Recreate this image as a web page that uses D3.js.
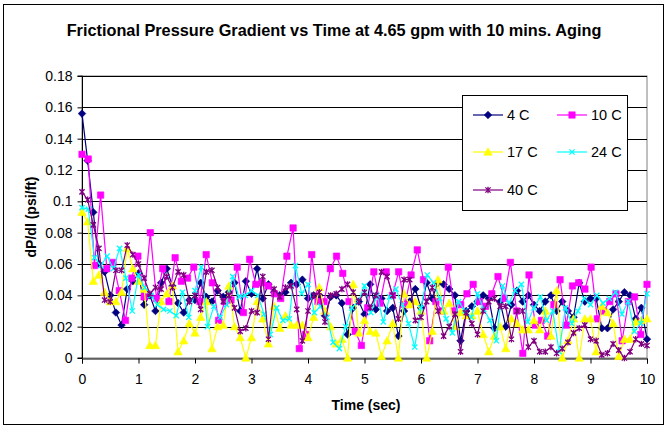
<!DOCTYPE html>
<html>
<head>
<meta charset="utf-8">
<script src="https://cdn.jsdelivr.net/npm/d3@7/dist/d3.min.js"></script>
<style>
  html, body { margin: 0; padding: 0; background: #fff; }
  svg { display: block; font-family: "Liberation Sans", Arial, sans-serif; }
</style>
</head>
<body>
<svg id="chart" width="668" height="429"></svg>
<script>
// Frictional pressure gradient (psi/ft) sampled over 10 s for each fluid temperature.
const seriesNames = ["4 C", "10 C", "17 C", "24 C", "40 C"];

// Sampling interval (s) of each run; every run spans 0..10 s.
const sampleStep = { "4 C": 0.1, "10 C": 10 / 91, "17 C": 0.1, "24 C": 10 / 90, "40 C": 0.1 };

const dp4C = [
  0.156, 0.126, 0.093, 0.060, 0.055, 0.040, 0.029, 0.021, 0.044, 0.049,
  0.054, 0.034, 0.040, 0.030, 0.048, 0.057, 0.046, 0.035, 0.029, 0.037,
  0.037, 0.048, 0.039, 0.036, 0.043, 0.039, 0.042, 0.048, 0.030, 0.049,
  0.041, 0.057, 0.038, 0.047, 0.042, 0.040, 0.042, 0.048, 0.047, 0.050,
  0.038, 0.040, 0.040, 0.027, 0.039, 0.040, 0.035, 0.015, 0.032, 0.036,
  0.028, 0.047, 0.031, 0.038, 0.030, 0.032, 0.014, 0.030, 0.036, 0.044,
  0.032, 0.048, 0.038, 0.048, 0.047, 0.044, 0.040, 0.011, 0.030, 0.033,
  0.036, 0.040, 0.038, 0.019, 0.036, 0.020, 0.034, 0.043, 0.036, 0.040,
  0.034, 0.030, 0.036, 0.040, 0.030, 0.036, 0.030, 0.026, 0.048, 0.036,
  0.038, 0.038, 0.019, 0.019, 0.031, 0.036, 0.042, 0.040, 0.025, 0.032,
  0.012
];

const dp10C = [
  0.130, 0.127, 0.059, 0.104, 0.057, 0.061, 0.043, 0.024, 0.051, 0.065,
  0.039, 0.080, 0.038, 0.057, 0.036, 0.064, 0.049, 0.051, 0.058, 0.036,
  0.066, 0.048, 0.024, 0.036, 0.037, 0.058, 0.029, 0.063, 0.047, 0.048,
  0.046, 0.041, 0.038, 0.065, 0.083, 0.006, 0.015, 0.066, 0.036, 0.036,
  0.057, 0.065, 0.054, 0.036, 0.017, 0.008, 0.032, 0.055, 0.035, 0.055,
  0.040, 0.055, 0.034, 0.053, 0.069, 0.050, 0.011, 0.036, 0.030, 0.058,
  0.030, 0.034, 0.041, 0.047, 0.036, 0.033, 0.041, 0.052, 0.038, 0.061,
  0.030, 0.003, 0.053, 0.021, 0.024, 0.014, 0.034, 0.050, 0.021, 0.046,
  0.048, 0.044, 0.058, 0.025, 0.030, 0.036, 0.041, 0.011, 0.036, 0.039,
  0.015, 0.047
];

const dp17C = [
  0.093, 0.087, 0.049, 0.053, 0.042, 0.036, 0.036, 0.042, 0.070, 0.057,
  0.049, 0.044, 0.008, 0.008, 0.036, 0.041, 0.046, 0.004, 0.011, 0.022,
  0.016, 0.026, 0.036, 0.006, 0.020, 0.021, 0.046, 0.020, 0.013, 0.000,
  0.013, 0.036, 0.025, 0.009, 0.033, 0.019, 0.027, 0.021, 0.021, 0.021,
  0.013, 0.026, 0.045, 0.030, 0.020, 0.009, 0.012, 0.000, 0.047, 0.016,
  0.024, 0.017, 0.016, 0.001, 0.011, 0.022, 0.000, 0.041, 0.034, 0.036,
  0.030, 0.000, 0.017, 0.050, 0.030, 0.035, 0.020, 0.029, 0.027, 0.027,
  0.030, 0.015, 0.004, 0.014, 0.020, 0.006, 0.025, 0.022, 0.018, 0.018,
  0.024, 0.018, 0.030, 0.014, 0.043, 0.000, 0.011, 0.025, 0.000, 0.025,
  0.025, 0.004, 0.033, 0.029, 0.022, 0.001, 0.012, 0.012, 0.023, 0.024,
  0.025
];

const dp24C = [
  0.096, 0.095, 0.064, 0.059, 0.065, 0.057, 0.070, 0.051, 0.030, 0.053,
  0.045, 0.040, 0.034, 0.031, 0.030, 0.027, 0.042, 0.026, 0.043, 0.058,
  0.020, 0.033, 0.026, 0.034, 0.052, 0.039, 0.040, 0.043, 0.040, 0.028,
  0.015, 0.032, 0.024, 0.025, 0.059, 0.041, 0.047, 0.029, 0.033, 0.026,
  0.010, 0.006, 0.020, 0.032, 0.036, 0.046, 0.029, 0.040, 0.023, 0.039,
  0.044, 0.034, 0.022, 0.007, 0.032, 0.053, 0.048, 0.038, 0.025, 0.016,
  0.036, 0.030, 0.026, 0.041, 0.031, 0.024, 0.011, 0.046, 0.035, 0.043,
  0.047, 0.023, 0.032, 0.039, 0.024, 0.030, 0.004, 0.032, 0.022, 0.030,
  0.038, 0.034, 0.040, 0.035, 0.038, 0.042, 0.028, 0.036, 0.017, 0.022,
  0.041
];

const dp40C = [
  0.106, 0.101, 0.085, 0.070, 0.037, 0.036, 0.056, 0.056, 0.072, 0.066,
  0.060, 0.051, 0.041, 0.045, 0.044, 0.052, 0.045, 0.055, 0.053, 0.036,
  0.040, 0.031, 0.055, 0.056, 0.045, 0.036, 0.040, 0.032, 0.017, 0.019,
  0.030, 0.029, 0.052, 0.012, 0.044, 0.039, 0.045, 0.046, 0.031, 0.011,
  0.030, 0.040, 0.042, 0.023, 0.040, 0.041, 0.044, 0.047, 0.042, 0.036,
  0.042, 0.032, 0.040, 0.055, 0.052, 0.040, 0.025, 0.050, 0.050, 0.024,
  0.026, 0.036, 0.045, 0.030, 0.014, 0.020, 0.028, 0.004, 0.029, 0.022,
  0.015, 0.030, 0.036, 0.038, 0.033, 0.033, 0.012, 0.030, 0.030, 0.007,
  0.011, 0.004, 0.004, 0.007, 0.003, 0.006, 0.010, 0.016, 0.019, 0.021,
  0.012, 0.011, 0.002, 0.003, 0.009, 0.005, 0.000, 0.004, 0.012, 0.009,
  0.008
];

const seriesValues = [dp4C, dp10C, dp17C, dp24C, dp40C];
const seriesColors = ["#000080", "#FF00FF", "#FFFF00", "#00FFFF", "#800080"];
const seriesMarkers = ["diamond", "square", "triangle", "cross", "star"];

const xTicks = [0, 1, 2, 3, 4, 5, 6, 7, 8, 9, 10];
const yTicks = [0, 0.02, 0.04, 0.06, 0.08, 0.1, 0.12, 0.14, 0.16, 0.18];

const titleText = "Frictional Pressure Gradient vs Time at 4.65 gpm with 10 mins. Aging";
const xTitle = "Time (sec)";
const yTitle = "dP/dl (psi/ft)";

// ---- layout ----
const svg = d3.select("#chart");
const plot = { left: 82, right: 647, top: 76, bottom: 358 };
const fontFamily = "\"Liberation Sans\", Arial, sans-serif";

const x = d3.scaleLinear().domain([0, 10]).range([plot.left, plot.right]);
const y = d3.scaleLinear().domain([0, 0.18]).range([plot.bottom, plot.top]);

// outer chart frame
svg.append("rect")
  .attr("x", 3.5).attr("y", 4.5).attr("width", 660).attr("height", 420)
  .attr("fill", "#fff").attr("stroke", "#000").attr("stroke-width", 1);

// plot area
svg.append("rect")
  .attr("x", plot.left).attr("y", plot.top)
  .attr("width", plot.right - plot.left).attr("height", plot.bottom - plot.top)
  .attr("fill", "#fff").attr("stroke", "#808080").attr("stroke-width", 1);

// horizontal gridlines
svg.append("g").selectAll("line")
  .data(yTicks.filter(v => v > 0))
  .join("line")
  .attr("x1", plot.left).attr("x2", plot.right)
  .attr("y1", d => Math.round(y(d)) + 0.5).attr("y2", d => Math.round(y(d)) + 0.5)
  .attr("stroke", "#000").attr("stroke-width", 1);

// axes
const fmtY = v => String(+v.toFixed(2));
const yAxis = d3.axisLeft(y).tickValues(yTicks).tickFormat(fmtY).tickSize(5).tickPadding(5);
const xAxis = d3.axisBottom(x).tickValues(xTicks).tickFormat(d3.format("d")).tickSize(5).tickPadding(11);

const gy = svg.append("g").attr("transform", `translate(${plot.left + 0.5},0)`).call(yAxis);
const gx = svg.append("g").attr("transform", `translate(0,${plot.bottom + 0.5})`).call(xAxis);
[gx, gy].forEach(g => {
  g.select(".domain").attr("stroke", "#000").attr("stroke-width", 1);
  g.selectAll(".tick line").attr("stroke", "#000");
  g.selectAll(".tick text").attr("fill", "#000").attr("font-size", 14)
    .attr("font-family", fontFamily);
});
gy.select(".domain").attr("d", `M-5,${plot.top}H0V${plot.bottom}H-5`);

// marker symbols
function markerPath(kind) {
  switch (kind) {
    case "diamond": return "M0,-3.8L3.8,0L0,3.8L-3.8,0Z";
    case "square": return "M-3.2,-3.2H3.2V3.2H-3.2Z";
    case "triangle": return "M0,-4.2L4.2,3.2L-4.2,3.2Z";
    case "cross": return "M-2.6,-2.6L2.6,2.6M-2.6,2.6L2.6,-2.6";
    case "star": return "M-2.6,-2.6L2.6,2.6M-2.6,2.6L2.6,-2.6M0,-3.2V3.2";
  }
}
function drawMarker(sel, kind, color) {
  const filled = kind === "diamond" || kind === "square" || kind === "triangle";
  sel.attr("d", markerPath(kind))
    .attr("fill", filled ? color : "none")
    .attr("stroke", color)
    .attr("stroke-width", filled ? 0.6 : 1.3);
}

// series
const line = d3.line().x(d => x(d.t)).y(d => y(d.v));
const seriesLayer = svg.append("g");
seriesNames.forEach((name, i) => {
  const step = sampleStep[name];
  const pts = seriesValues[i].map((v, k) => ({ t: Math.min(10, k * step), v }));
  const g = seriesLayer.append("g");
  g.append("path").datum(pts)
    .attr("d", line).attr("fill", "none")
    .attr("stroke", seriesColors[i]).attr("stroke-width", 1.2);
  g.selectAll("path.m").data(pts).join("path").attr("class", "m")
    .attr("transform", d => `translate(${x(d.t)},${y(d.v)})`)
    .call(drawMarker, seriesMarkers[i], seriesColors[i]);
});

// titles
svg.append("text")
  .attr("x", 334).attr("y", 36).attr("text-anchor", "middle")
  .attr("font-size", 16.3).attr("font-weight", "bold").text(titleText);
svg.append("text")
  .attr("x", 366).attr("y", 410).attr("text-anchor", "middle")
  .attr("font-size", 14).attr("font-weight", "bold").text(xTitle);
svg.append("text")
  .attr("transform", "translate(36,217) rotate(-90)").attr("text-anchor", "middle")
  .attr("font-size", 14).attr("font-weight", "bold").text(yTitle);

// legend
const legend = svg.append("g");
legend.append("rect")
  .attr("x", 462.5).attr("y", 95.5).attr("width", 165).attr("height", 115)
  .attr("fill", "#fff").attr("stroke", "#000").attr("stroke-width", 1);
const legendPos = [[473, 115], [557, 115], [473, 152], [557, 152], [473, 190]];
seriesNames.forEach((name, i) => {
  const [lx, ly] = legendPos[i];
  const item = legend.append("g").attr("transform", `translate(${lx},${ly})`);
  item.append("line").attr("x1", 0).attr("x2", 30).attr("y1", 0).attr("y2", 0)
    .attr("stroke", seriesColors[i]).attr("stroke-width", 1.2);
  item.append("path").attr("transform", "translate(15,0)")
    .call(drawMarker, seriesMarkers[i], seriesColors[i]);
  item.append("text").attr("x", 34).attr("y", 5)
    .attr("font-size", 14.5).text(name);
});
</script>
</body>
</html>
